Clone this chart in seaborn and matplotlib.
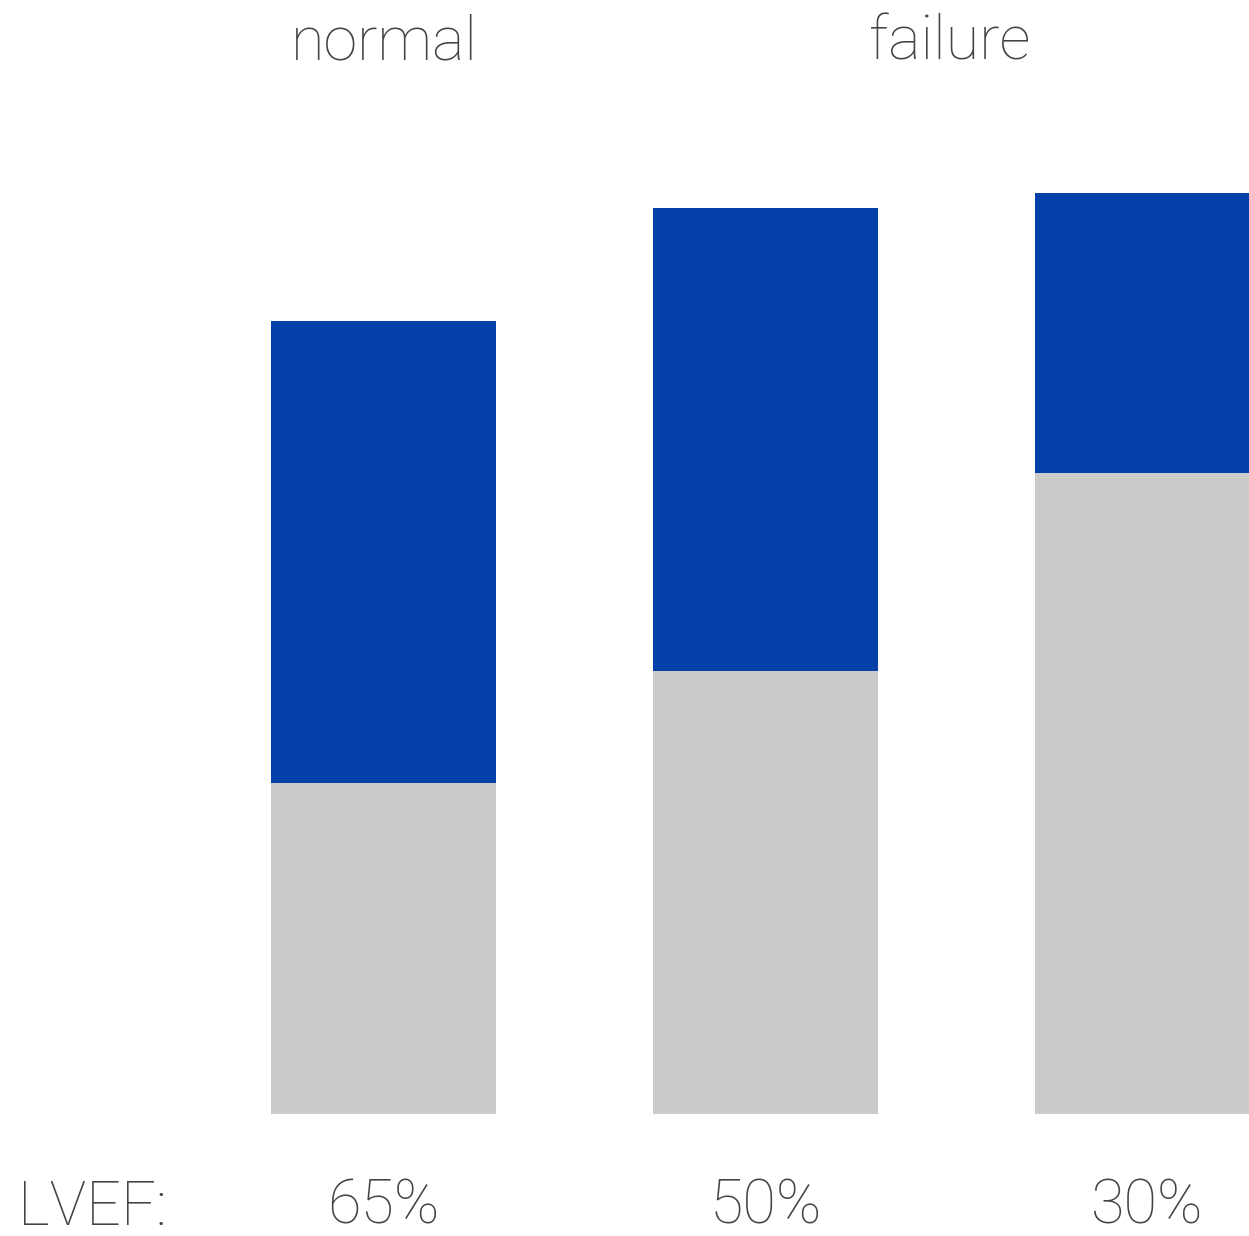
import matplotlib
matplotlib.use("Agg")
import matplotlib.pyplot as plt
import seaborn as sns
import pandas as pd

# Left-ventricular volumes per condition (end-systolic + stroke volume)
conditions = ["normal", "failure mild", "failure severe"]
end_systolic = [50, 67, 97]
stroke_volume = [70, 70, 42.3]
lvef_labels = ["65%", "50%", "30%"]
group_labels = ["normal", "failure"]

sns.set_theme(style="white")
plt.rcParams["font.family"] = ["Roboto", "DejaVu Sans"]

df = pd.DataFrame({
    "condition": conditions,
    "esv": end_systolic,
    "total": [e + s for e, s in zip(end_systolic, stroke_volume)],
})

fig = plt.figure(figsize=(12.49, 12.36), dpi=100)
ax = fig.add_axes([0, 0, 1, 1])

blue = "#0340A8"
grey = "#CBCBCB"
text_col = "#444444"
font_kw = dict(fontsize=44, fontweight="light", color=text_col)

sns.barplot(data=df, x="condition", y="total", color=blue, width=0.59,
            saturation=1, ax=ax)
sns.barplot(data=df, x="condition", y="esv", color=grey, width=0.59,
            saturation=1, ax=ax)
for p in ax.patches:
    p.set_linewidth(0)

ax.set_xlim(-1.004, 2.266)
ax.set_ylim(-18.46, 168.5)
ax.axis("off")

# Group headings
fig.text(384 / 1249, 1 - 60 / 1236, group_labels[0], ha="center",
         va="baseline", **font_kw)
fig.text(950 / 1249, 1 - 60 / 1236, group_labels[1], ha="center",
         va="baseline", **font_kw)

# Ejection fraction row
fig.text(18 / 1249, 1 - 1225 / 1236, "LVEF:", ha="left", va="baseline",
         **font_kw)
for i, lab in enumerate(lvef_labels):
    ax.text(i, -16.6, lab, ha="center", va="baseline", **font_kw)

fig.savefig("out.png", dpi=100)
